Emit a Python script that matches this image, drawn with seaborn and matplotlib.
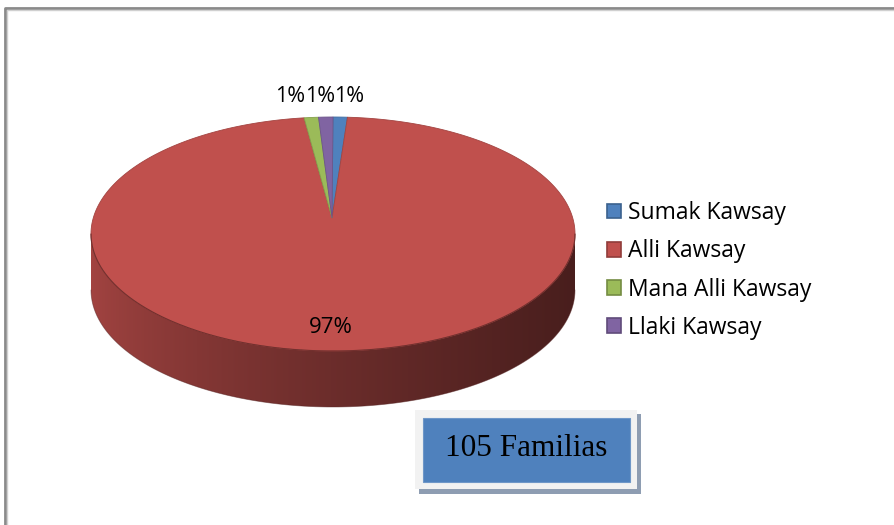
import numpy as np
import matplotlib
matplotlib.use("Agg")
import matplotlib.pyplot as plt
import seaborn as sns
from matplotlib.patches import Polygon, Rectangle, Patch
from matplotlib.colors import to_rgb

# data
categorias = ["Sumak Kawsay", "Alli Kawsay", "Mana Alli Kawsay", "Llaki Kawsay"]
familias = [1, 102, 1, 1]
colores = ["#4F81BD", "#C0504D", "#9BBB59", "#8064A2"]
total_texto = "105 Familias"

sns.set_theme(style="white")
plt.rcParams["font.family"] = ["Open Sans", "DejaVu Sans"]

W, H = 895, 525
fig = plt.figure(figsize=(W / 100, H / 100), dpi=100)
ax = fig.add_axes([0, 0, 1, 1])
ax.set_xlim(0, W)
ax.set_ylim(H, 0)
ax.axis("off")

# pie geometry (pixel coords, y down)
cx, cy = 333, 234
a, b = 242, 117
apex = (332, 218)
depth = 56

vals = np.array(familias, dtype=float)
widths = vals / vals.sum() * 360
ends = np.cumsum(widths)
starts = ends - widths


def rim(phi_deg):
    p = np.radians(phi_deg)
    return cx + a * np.cos(p), cy - b * np.sin(p)


def darker(c, f):
    r, g, bb = to_rgb(c)
    return (r * f, g * f, bb * f)


# side wall: front half only, each slice gets a shaded gradient
xg = np.linspace(cx - a, cx + a, 500)
tg = (xg - xg[0]) / (xg[-1] - xg[0])
shade = 0.85 - 0.47 * tg ** 0.7
for k in range(len(vals)):
    # slice k covers phi in [90 - ends[k], 90 - starts[k]] (clockwise from top)
    lo, hi = 90 - ends[k], 90 - starts[k]
    for shift in (0, 360, -360):
        p1, p2 = max(lo + shift, 180), min(hi + shift, 360)
        if p2 <= p1:
            continue
        phi = np.linspace(p1, p2, 200)
        xs, ys = rim(phi)
        pts = list(zip(xs, ys)) + list(zip(xs[::-1], ys[::-1] + depth))
        wall = Polygon(pts, closed=True, facecolor="none", edgecolor="none")
        ax.add_patch(wall)
        grad = np.array([[darker(colores[k], f) for f in shade]])
        im = ax.imshow(grad, extent=(cx - a, cx + a, cy + b + depth, cy - b),
                       aspect="auto", interpolation="bilinear", zorder=1)
        im.set_clip_path(wall)
        ax.plot(xs, ys + depth, color=darker(colores[k], 0.45), lw=0.6, alpha=0.5, zorder=1)

# top face wedges
for k in range(len(vals)):
    phi = np.linspace(90 - starts[k], 90 - ends[k], max(int(widths[k] * 2), 4))
    xs, ys = rim(phi)
    pts = [apex] + list(zip(xs, ys))
    ax.add_patch(Polygon(pts, closed=True, facecolor=colores[k],
                         edgecolor=darker(colores[k], 0.85), lw=0.6, zorder=2))

# outline between top face and wall
phi = np.linspace(180, 360, 200)
xs, ys = rim(phi)
ax.plot(xs, ys, color=darker(colores[1], 0.6), lw=0.8, zorder=3)

# percentage labels
pct = [f"{round(v / vals.sum() * 100)}%" for v in vals]
small = [k for k in range(len(vals)) if widths[k] < 20]
small_x = sorted((rim(90 - (starts[k] + ends[k]) / 2)[0], k) for k in small)
mean_x = np.mean([x for x, _ in small_x]) - 6
step = 29.5
for i, (x, k) in enumerate(small_x):
    xl = mean_x + (i - (len(small_x) - 1) / 2) * step
    ax.text(xl, 96, pct[k], ha="center", va="center", fontsize=15.5, color="black", zorder=4)
for k in range(len(vals)):
    if k in small:
        continue
    m = np.radians(90 - (starts[k] + ends[k]) / 2)
    ax.text(cx - 4 + a * 0.8 * np.cos(m) * 0.3, cy - b * 0.8 * np.sin(m),
            pct[k], ha="center", va="center", fontsize=16, color="black", zorder=4)

# legend
handles = [Patch(facecolor=c, edgecolor=darker(c, 0.75), lw=1.2) for c in colores]
ax.legend(handles, categorias, loc="upper left", bbox_to_anchor=(598 / W, 1 - 192 / H),
          frameon=False, fontsize=16.5, handlelength=0.6, handleheight=0.6,
          handletextpad=0.3, labelspacing=0.62, borderaxespad=0, labelcolor="black")

# "105 Familias" box
ax.add_patch(Rectangle((419, 414), 222, 80, facecolor="#8E9DB2", edgecolor="none", zorder=2))
ax.add_patch(Rectangle((415, 410), 222, 79, facecolor="#F2F2F2", edgecolor="none", zorder=3))
ax.add_patch(Rectangle((423, 418), 207, 64, facecolor="#4F81BD", edgecolor="#6F97C8",
                       lw=0.8, zorder=4))
ax.text(526.5, 449, total_texto, ha="center", va="center", fontsize=22.5,
        family=["Liberation Serif", "DejaVu Serif"], color="black", zorder=5)

# outer chart frame
ax.plot([5.5, 5.5, W], [H, 7.5, 7.5], color="#8A8A8A", lw=2, zorder=6)
ax.plot([7.5, 7.5, W], [H, 9.5, 9.5], color="#D0D0D0", lw=1, zorder=6)

fig.savefig("out.png", dpi=100)
